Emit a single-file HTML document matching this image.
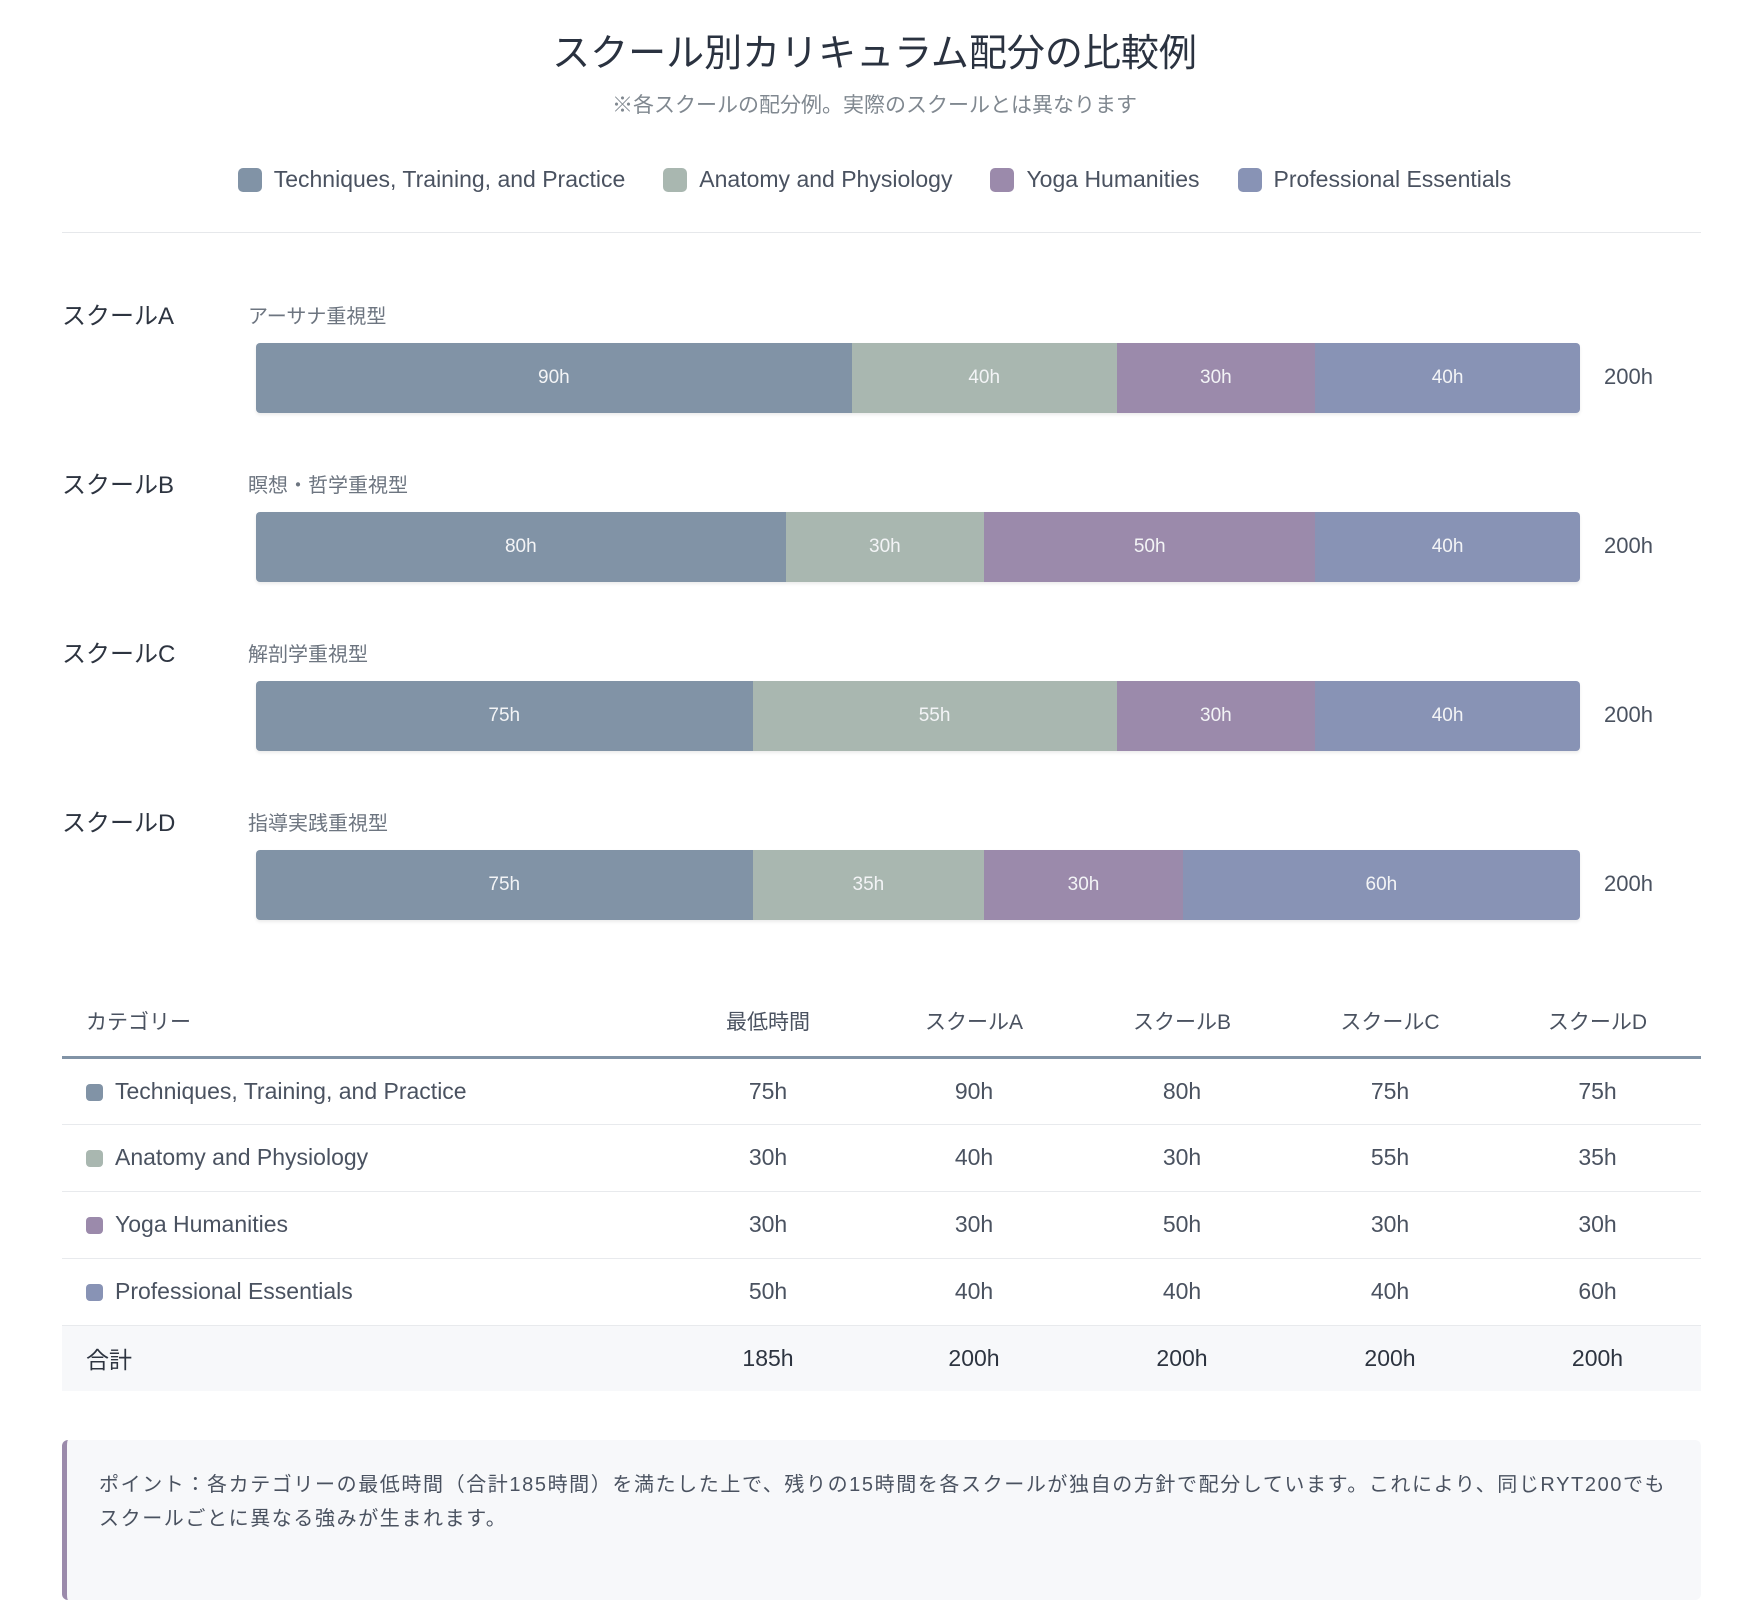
<!DOCTYPE html>
<html><head><meta charset="utf-8"><style>
*{margin:0;padding:0;box-sizing:border-box}
body{width:1749px;height:1579px;background:#fff;font-family:"Liberation Sans","Noto Sans CJK JP",sans-serif;color:#2d3440;position:relative;overflow:hidden}
.abs{position:absolute}
h1{position:absolute;left:0;width:1749px;top:22px;text-align:center;font-size:38px;font-weight:400;color:#2a3240}
.sub{top:89px;left:0;width:1749px;text-align:center;font-size:21px;color:#808890}
.leg{top:166px;left:0;width:1749px;display:flex;justify-content:center;gap:38px;font-size:23px;color:#4a5260}
.leg span{display:flex;align-items:center}
.sw{display:inline-block;width:24px;height:24px;border-radius:5px;margin-right:12px}
.T{background:#8193a6}.A{background:#a9b7b0}.Y{background:#9b8aab}.P{background:#8893b5}
.div{top:232px;left:62px;width:1639px;height:1px;background:#e6e8eb}
.sl{font-size:24px;color:#2d3440}
.sd{font-size:20px;color:#6d7580}
.bar{left:256px;width:1324px;height:70px;display:flex;border-radius:4px;overflow:hidden;box-shadow:0 2px 3px rgba(0,0,0,.08)}
.bar div{display:flex;align-items:center;justify-content:center;color:#f3f4f6;font-size:19px}
.tot{left:1604px;font-size:22px;color:#4a5260}
table{position:absolute;left:62px;top:987px;width:1639px;border-collapse:collapse;font-size:23px;color:#4a5260}
th{font-weight:400;height:70px;font-size:21px;border-bottom:3px solid #8193a6;color:#4a5260}
td{height:67px;border-bottom:1px solid #e8eaed;text-align:center}
td:first-child,th:first-child{text-align:left;padding-left:24px}
.ds{display:inline-block;width:17px;height:17px;border-radius:4px;margin-right:12px;vertical-align:-2px}
tr.total td{background:#f7f8fa;border:none;height:66px;color:#2d3440}
.note{left:62px;width:1639px;height:160px;background:#f7f8fa;border-left:5px solid #9b8aab;border-radius:6px;padding:28px 20px 30px 32px;font-size:20px;letter-spacing:1.6px;line-height:34px;color:#4a5260;white-space:nowrap}
</style></head><body>
<h1>スクール別カリキュラム配分の比較例</h1>
<div class="abs sub">※各スクールの配分例。実際のスクールとは異なります</div>
<div class="abs leg"><span><i class="sw T"></i>Techniques, Training, and Practice</span><span><i class="sw A"></i>Anatomy and Physiology</span><span><i class="sw Y"></i>Yoga Humanities</span><span><i class="sw P"></i>Professional Essentials</span></div>
<div class="abs div"></div>

<div class="abs sl" style="left:62px;top:296px">スクールA</div><div class="abs sd" style="left:248px;top:300px">アーサナ重視型</div>
<div class="abs bar" style="top:343px"><div class="T" style="flex:90">90h</div><div class="A" style="flex:40">40h</div><div class="Y" style="flex:30">30h</div><div class="P" style="flex:40">40h</div></div>
<div class="abs tot" style="top:364px">200h</div>

<div class="abs sl" style="left:62px;top:465px">スクールB</div><div class="abs sd" style="left:248px;top:469px">瞑想・哲学重視型</div>
<div class="abs bar" style="top:512px"><div class="T" style="flex:80">80h</div><div class="A" style="flex:30">30h</div><div class="Y" style="flex:50">50h</div><div class="P" style="flex:40">40h</div></div>
<div class="abs tot" style="top:533px">200h</div>

<div class="abs sl" style="left:62px;top:634px">スクールC</div><div class="abs sd" style="left:248px;top:638px">解剖学重視型</div>
<div class="abs bar" style="top:681px"><div class="T" style="flex:75">75h</div><div class="A" style="flex:55">55h</div><div class="Y" style="flex:30">30h</div><div class="P" style="flex:40">40h</div></div>
<div class="abs tot" style="top:702px">200h</div>

<div class="abs sl" style="left:62px;top:803px">スクールD</div><div class="abs sd" style="left:248px;top:807px">指導実践重視型</div>
<div class="abs bar" style="top:850px"><div class="T" style="flex:75">75h</div><div class="A" style="flex:35">35h</div><div class="Y" style="flex:30">30h</div><div class="P" style="flex:60">60h</div></div>
<div class="abs tot" style="top:871px">200h</div>

<table>
<colgroup><col style="width:604px"><col style="width:204px"><col style="width:208px"><col style="width:208px"><col style="width:208px"><col style="width:207px"></colgroup>
<tr><th>カテゴリー</th><th>最低時間</th><th>スクールA</th><th>スクールB</th><th>スクールC</th><th>スクールD</th></tr>
<tr><td><i class="ds T"></i>Techniques, Training, and Practice</td><td>75h</td><td>90h</td><td>80h</td><td>75h</td><td>75h</td></tr>
<tr><td><i class="ds A"></i>Anatomy and Physiology</td><td>30h</td><td>40h</td><td>30h</td><td>55h</td><td>35h</td></tr>
<tr><td><i class="ds Y"></i>Yoga Humanities</td><td>30h</td><td>30h</td><td>50h</td><td>30h</td><td>30h</td></tr>
<tr><td><i class="ds P"></i>Professional Essentials</td><td>50h</td><td>40h</td><td>40h</td><td>40h</td><td>60h</td></tr>
<tr class="total"><td>合計</td><td>185h</td><td>200h</td><td>200h</td><td>200h</td><td>200h</td></tr>
</table>

<div class="abs note" style="top:1440px">ポイント：各カテゴリーの最低時間（合計185時間）を満たした上で、残りの15時間を各スクールが独自の方針で配分しています。これにより、同じRYT200でも<br>スクールごとに異なる強みが生まれます。</div>
</body></html>
